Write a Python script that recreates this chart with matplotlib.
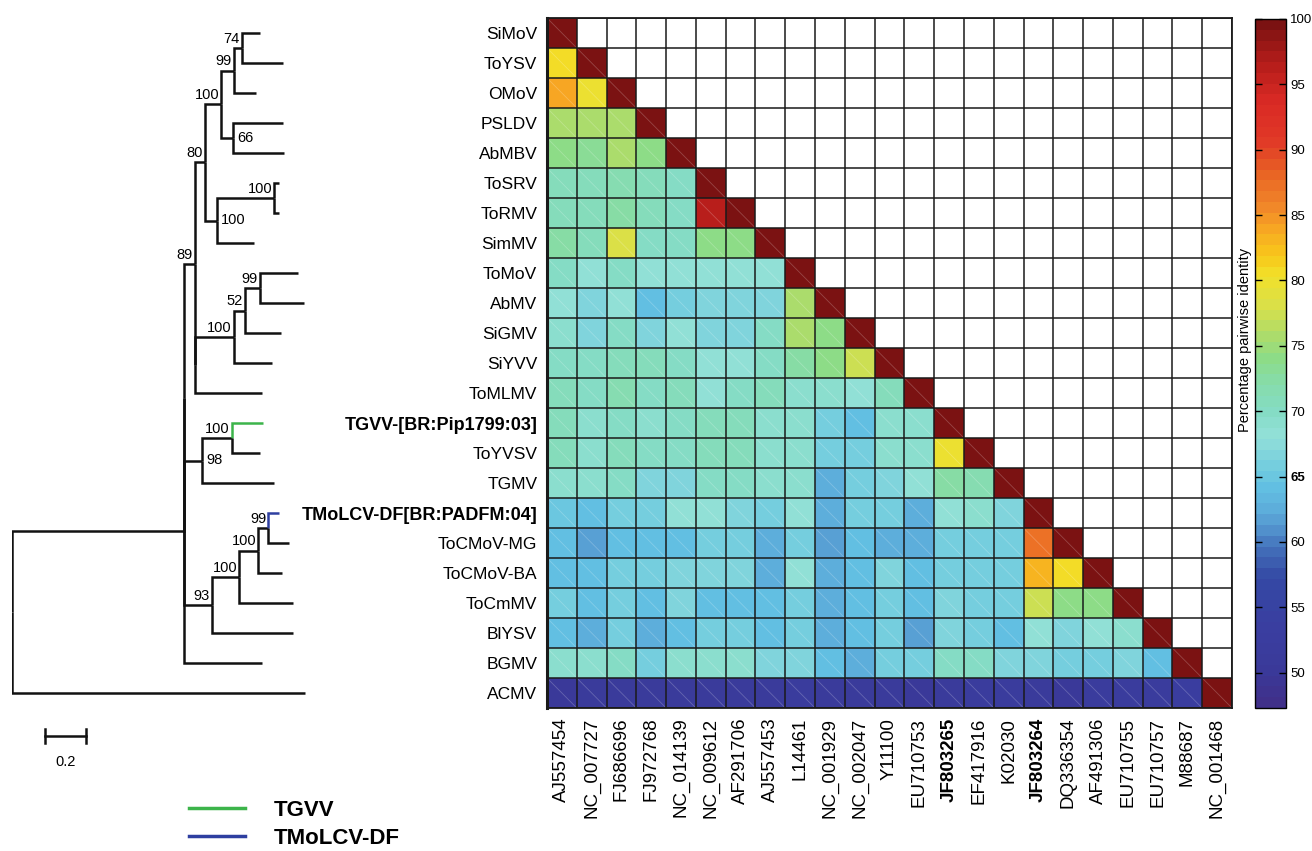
import numpy as np
import matplotlib
matplotlib.use("Agg")
import matplotlib.pyplot as plt
from matplotlib.colors import LinearSegmentedColormap, Normalize
from matplotlib.collections import LineCollection
from matplotlib.lines import Line2D

plt.rcParams["font.family"] = ["Liberation Sans", "DejaVu Sans"]

# etiquetas de filas (virus) y columnas (accesiones)
row_labels = [
    "SiMoV", "ToYSV", "OMoV", "PSLDV", "AbMBV", "ToSRV", "ToRMV", "SimMV",
    "ToMoV", "AbMV", "SiGMV", "SiYVV", "ToMLMV", "TGVV-[BR:Pip1799:03]",
    "ToYVSV", "TGMV", "TMoLCV-DF[BR:PADFM:04]", "ToCMoV-MG", "ToCMoV-BA",
    "ToCmMV", "BlYSV", "BGMV", "ACMV",
]
col_labels = [
    "AJ557454", "NC_007727", "FJ686696", "FJ972768", "NC_014139", "NC_009612",
    "AF291706", "AJ557453", "L14461", "NC_001929", "NC_002047", "Y11100",
    "EU710753", "JF803265", "EF417916", "K02030", "JF803264", "DQ336354",
    "AF491306", "EU710755", "EU710757", "M88687", "NC_001468",
]
bold_idx = [13, 16]

# identidad pairwise (triangulo inferior)
identity = [
    [100],
    [81, 100],
    [84, 80, 100],
    [76, 75.5, 75.5, 100],
    [74, 73.5, 75.5, 74, 100],
    [71, 71, 72, 71, 70, 100],
    [71, 71, 72.5, 71, 70, 96.5, 100],
    [72.5, 71, 78, 70, 70, 74, 74, 100],
    [70, 68.5, 70, 68, 68, 68, 68, 68.5, 100],
    [68.5, 67, 68, 64, 65.5, 66.5, 66.5, 67, 76, 100],
    [69.5, 66.5, 70, 66.5, 68, 67, 67, 70, 76, 74, 100],
    [70, 70, 71, 71, 70, 68.5, 68.5, 70, 72.5, 74, 77, 100],
    [71, 70, 72, 70, 71, 68.5, 70, 71, 69, 69, 68, 71, 100],
    [71, 69, 70, 69, 70, 71, 71, 69.5, 69.5, 65.5, 64, 69, 69.5, 100],
    [70.5, 69, 71, 70, 70, 71, 71, 69, 69, 65.5, 65.5, 69, 69, 80, 100],
    [69, 69, 70, 66.5, 67, 70, 70, 69, 69, 62.5, 65.5, 67, 68.5, 72.5, 71.5, 100],
    [65, 64, 65.5, 65.5, 68, 68, 67, 65.5, 68, 62.5, 65.5, 65.5, 62.5, 68, 69, 67, 100],
    [64, 61.5, 64, 64, 64, 65.5, 65.5, 62.5, 65.5, 61.5, 64, 62.5, 62.5, 65.5, 65.5, 65.5,
     87, 100],
    [64, 64, 65.5, 65.5, 66.5, 67, 67, 62.5, 68, 62.5, 64, 67, 64, 65.5, 65.5, 65.5,
     83.5, 80.5, 100],
    [65.5, 64, 65.5, 64, 66.5, 64, 64, 64, 65.5, 62.5, 64, 65.5, 64, 67, 65.5, 65.5,
     77, 74, 74, 100],
    [64, 62.5, 65.5, 62.5, 64, 65.5, 65.5, 64, 65.5, 62.5, 64, 65.5, 61.5, 67, 65.5, 64,
     68, 67, 68, 69, 100],
    [69, 69, 70, 65.5, 69, 69, 69, 67, 67, 64, 62.5, 65.5, 65.5, 70, 70, 67, 67, 65.5,
     65.5, 67, 64, 100],
    [50, 51, 51, 51, 51, 51, 51, 51, 51.5, 51, 51, 51, 50, 51, 51.5, 51.5, 51, 50,
     51.5, 51.5, 51.5, 53, 100],
]

# arbol (newick), "|r" = etiqueta de bootstrap a la derecha del nodo
tree_newick = (
    "(((("
    "((((SiMoV:0.088,ToYSV:0.2)74:0.039,OMoV:0.107)99:0.063,"
    "(PSLDV:0.244,AbMBV:0.249)66|r:0.059)100:0.078,"
    "((ToSRV:0.024,ToRMV:0.024)100:0.278,SimMV:0.18)100|r:0.059)80:0.049,"
    "((((ToMoV:0.185,AbMV:0.215)99:0.073,SiGMV:0.176)52:0.054,SiYVV:0.185)100:0.19,"
    "ToMLMV:0.327):0)89:0.054,"
    "(((TGVV:0.151,ToYVSV:0.137)100:0.146,TGMV:0.351)98|r:0.088,"
    "((((TMoLCV:0.054,ToCMoV-MG:0.102)99:0.049,ToCMoV-BA:0.117)100:0.093,"
    "ToCmMV:0.263)100:0.132,BlYSV:0.395)93:0.137):0):0,"
    "BGMV:0.38):0.839,"
    "ACMV:1.429);"
)
leaf_colors = {"TGVV": "#3cb44a", "TMoLCV": "#2e3fa0"}

cmap_values = [47.3, 50, 53, 57, 59.5, 61, 62.5, 64, 65, 66.5, 68, 70, 72, 74, 76,
               78, 80.5, 82, 84, 86, 88, 91, 94, 97, 100]
cmap_colors = ["#40308a", "#3a3a9a", "#3a3ea0", "#3448a4", "#4474bc", "#5598d0",
               "#5eb0dc", "#62bfe2", "#6cc8e0", "#80d4dc", "#92e0d8", "#84dcc4",
               "#86dcac", "#8cdc88", "#b0dc68", "#d8e04a", "#f2e02a", "#f8c81a",
               "#f7a823", "#f0842a", "#ea6a24", "#e03827", "#d92a24", "#b41d1a",
               "#7b1212"]
vmin, vmax = 47.3, 100


def parse_newick(s):
    pos = 0

    def node():
        nonlocal pos
        children = []
        if s[pos] == "(":
            pos += 1
            while True:
                children.append(node())
                if s[pos] == ",":
                    pos += 1
                    continue
                pos += 1
                break
        start = pos
        while s[pos] not in ",();":
            pos += 1
        label = s[start:pos]
        length = 0.0
        if ":" in label:
            label, length = label.split(":")
            length = float(length)
        return {"name": label, "length": length, "children": children}

    return node()


def layout(n, x0, counter):
    n["x"] = x0 + n["length"]
    if not n["children"]:
        n["y"] = counter[0] + 0.5
        counter[0] += 1
    else:
        for c in n["children"]:
            layout(c, n["x"], counter)
        n["y"] = (n["children"][0]["y"] + n["children"][-1]["y"]) / 2


def draw_tree(ax, n):
    for c in n["children"]:
        color = leaf_colors.get(c["name"], "#111111") if not c["children"] else "#111111"
        ax.plot([n["x"], n["x"], c["x"]], [n["y"], c["y"], c["y"]], color=color,
                lw=1.8, solid_capstyle="butt", solid_joinstyle="miter")
        draw_tree(ax, c)
    if n["children"] and n["name"]:
        support, _, side = n["name"].partition("|")
        if side == "r":
            ax.annotate(support, (n["x"], n["y"]), xytext=(3, 0),
                        textcoords="offset points", ha="left", va="center", fontsize=10.5)
        else:
            ax.annotate(support, (n["x"], n["y"]), xytext=(-1.5, 1.5),
                        textcoords="offset points", ha="right", va="bottom", fontsize=10.5)


W, H = 1312, 851
fig = plt.figure(figsize=(W / 100, H / 100), dpi=100)

n = len(row_labels)
mat = np.full((n, n), np.nan)
for i, row in enumerate(identity):
    mat[i, :len(row)] = row

cmap = LinearSegmentedColormap.from_list(
    "identity",
    [((v - vmin) / (vmax - vmin), c) for v, c in zip(cmap_values, cmap_colors)],
    N=64,
)
norm = Normalize(vmin=vmin, vmax=vmax)

# heatmap
ax = fig.add_axes([547 / W, 1 - 708 / H, 685 / W, 690 / H])
mesh = ax.pcolormesh(np.arange(n + 1), np.arange(n + 1), np.ma.masked_invalid(mat),
                     cmap=cmap, norm=norm)
ax.set_xlim(0, n)
ax.set_ylim(n, 0)

# lineas diagonales tenues dentro de cada celda
segs = [[(j, i), (j + 1, i + 1)] for i in range(n) for j in range(i + 1)]
ax.add_collection(LineCollection(segs, colors="white", alpha=0.22, linewidths=0.6))

for k in range(n + 1):
    ax.axhline(k, color="#1a1a1a", lw=1.1)
    ax.axvline(k, color="#1a1a1a", lw=1.1)
for sp in ax.spines.values():
    sp.set_linewidth(1.3)
    sp.set_color("#1a1a1a")
ax.spines["left"].set_linewidth(2.2)

ax.set_yticks(np.arange(n) + 0.5)
ax.set_yticklabels(row_labels, fontsize=12.5)
ax.set_xticks(np.arange(n) + 0.5)
ax.set_xticklabels(col_labels, fontsize=13.5, rotation=90)
ax.tick_params(length=0, pad=7)
for k in bold_idx:
    ax.get_yticklabels()[k].set_fontweight("bold")
    ax.get_yticklabels()[k].set_fontsize(13)
    ax.get_xticklabels()[k].set_fontweight("bold")

# barra de color
cax = fig.add_axes([1255 / W, 1 - 708 / H, 31 / W, 689 / H])
cb = fig.colorbar(mesh, cax=cax, ticks=range(50, 101, 5))
cb.outline.set_linewidth(1.0)
cax.tick_params(direction="in", length=5, width=1, left=True, right=True,
                labelsize=9.5, pad=3)
for t in cax.get_yticklabels():
    if t.get_text() == "65":
        t.set_fontweight("bold")
fig.text(1245 / W, 1 - 340 / H, "Percentage pairwise identity", rotation=90,
         ha="center", va="center", fontsize=10.5)

# arbol
tax = fig.add_axes([12 / W, 1 - 708 / H, 330 / W, 690 / H])
tree = parse_newick(tree_newick)
layout(tree, 0.0, [0])
draw_tree(tax, tree)
tax.set_xlim(0, 330 / 205)
tax.set_ylim(n, 0)
tax.axis("off")

# barra de escala 0.2
sx = 33 / 205
tax.plot([sx, sx + 0.2], [23.93, 23.93], color="#111111", lw=1.8, clip_on=False)
for xx in (sx, sx + 0.2):
    tax.plot([xx, xx], [23.7, 24.17], color="#111111", lw=1.8, clip_on=False)
tax.text(sx + 0.1, 24.8, "0.2", ha="center", va="center", fontsize=10.5, clip_on=False)

handles = [Line2D([], [], color=leaf_colors["TGVV"], lw=2.5, label="TGVV"),
           Line2D([], [], color=leaf_colors["TMoLCV"], lw=2.5, label="TMoLCV-DF")]
fig.legend(handles=handles, loc="upper left", bbox_to_anchor=(189 / W, 1 - 800 / H),
           frameon=False, prop={"weight": "bold", "size": 16},
           handlelength=2.5, handletextpad=1.3, labelspacing=0.3,
           borderpad=0, borderaxespad=0)

fig.savefig("out.png", dpi=100)
